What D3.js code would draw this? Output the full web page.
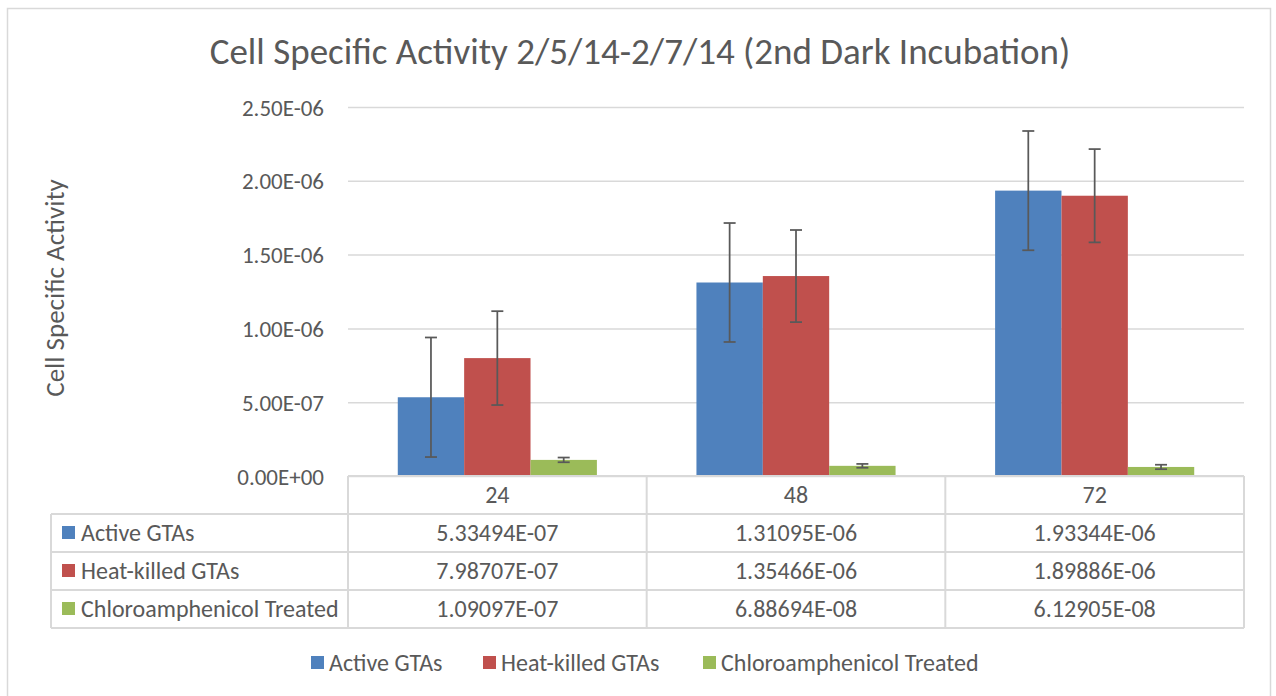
<!DOCTYPE html>
<html>
<head>
<meta charset="utf-8">
<script src="https://cdn.jsdelivr.net/npm/d3@7"></script>
<style>
	body { margin: 0; background: #fff; }
	svg text { font-family: Carlito, Lato, sans-serif; fill: #595959; }
</style>
</head>
<body>
<div id="chartContainer"></div>
<script>
// Data
var categories = ['24', '48', '72'];
var seriesNames = ['Active GTAs', 'Heat-killed GTAs', 'Chloroamphenicol Treated'];
var seriesColors = ['#4f81bd', '#c0504d', '#9bbb59'];
var activeValues = [5.33494e-7, 1.31095e-6, 1.93344e-6];
var heatValues = [7.98707e-7, 1.35466e-6, 1.89886e-6];
var chloroValues = [1.09097e-7, 6.88694e-8, 6.12905e-8];
var activeErrors = [4.05e-7, 4.03e-7, 4.04e-7];
var heatErrors = [3.18e-7, 3.12e-7, 3.16e-7];
var chloroErrors = [1.6e-8, 1.3e-8, 1.5e-8];
var yTicks = [0, 5e-7, 1e-6, 1.5e-6, 2e-6, 2.5e-6];

var seriesValues = [activeValues, heatValues, chloroValues];
var seriesErrors = [activeErrors, heatErrors, chloroErrors];

// Excel style exponent text, e.g. 5.33494E-07
function excelExp(v, digits) {
	var s = v.toExponential(digits).split('e');
	var exp = +s[1];
	var sign = exp < 0 ? '-' : '+';
	var e = Math.abs(exp);
	return s[0] + 'E' + sign + (e < 10 ? '0' + e : e);
}

/***********************************************************
  Start: Main SVG Setup
***********************************************************/
var width = 1276;
var height = 696;
var plot = { left: 348, right: 1244, top: 107, bottom: 476 };
var tableLeft = 51;
var rowHeight = 38;
var tableFont = '24px';

var svg = d3.select('#chartContainer')
	.append('svg')
	.attr('width', width)
	.attr('height', height);

svg.append('rect')
	.attr('x', 7.5)
	.attr('y', 8.5)
	.attr('width', 1263)
	.attr('height', 700)
	.attr('fill', '#fff')
	.attr('stroke', '#d9d9d9')
	.attr('stroke-width', 1.5);
/***********************************************************
  End: Main SVG Setup
***********************************************************/

/***********************************************************
  Start: Scales
***********************************************************/
var x = d3.scaleBand().domain(categories).range([plot.left, plot.right]);
var xInner = d3.scaleBand().domain(d3.range(seriesNames.length))
	.range([0, x.bandwidth()]).paddingInner(0).paddingOuter(0.75);
var y = d3.scaleLinear().domain([0, 2.5e-6]).range([plot.bottom, plot.top]);
var rows = d3.scaleBand().domain(['header'].concat(seriesNames))
	.range([plot.bottom, plot.bottom + rowHeight * 4]);
/***********************************************************
  End: Scales
***********************************************************/

// Title
svg.append('text')
	.text('Cell Specific Activity 2/5/14-2/7/14 (2nd Dark Incubation)')
	.attr('x', 640)
	.attr('y', 64)
	.attr('text-anchor', 'middle')
	.style('font-size', '37px');

// Gridlines and y tick labels
var yAxis = d3.axisLeft(y).tickValues(yTicks).tickSize(-(plot.right - plot.left))
	.tickPadding(24).tickFormat(function(d) { return excelExp(d, 2); });
var gy = svg.append('g')
	.attr('transform', 'translate(' + plot.left + ',0)')
	.call(yAxis);
gy.select('.domain').remove();
gy.selectAll('.tick line').attr('stroke', '#d9d9d9').attr('stroke-width', 1.5);
gy.selectAll('.tick text')
	.style('font-size', '23px')
	.style('font-family', 'Carlito, Lato, sans-serif')
	.attr('fill', '#595959')
	.attr('dy', '0.35em');

// Y axis title
svg.append('text')
	.text('Cell Specific Activity')
	.attr('text-anchor', 'middle')
	.attr('transform', 'translate(64,288) rotate(-90)')
	.style('font-size', '27px');

/***********************************************************
  Start: Bars and error bars
***********************************************************/
for (var s = 0; s < seriesNames.length; s++) {
	for (var c = 0; c < categories.length; c++) {
		var v = seriesValues[s][c];
		var err = seriesErrors[s][c];
		var bx = x(categories[c]) + xInner(s);
		svg.append('rect')
			.attr('x', bx)
			.attr('y', y(v))
			.attr('width', xInner.bandwidth())
			.attr('height', y(0) - y(v))
			.attr('fill', seriesColors[s]);

		var cx = bx + xInner.bandwidth() / 2;
		var g = svg.append('g')
			.attr('stroke', '#595959')
			.attr('stroke-width', 1.75);
		g.append('line')
			.attr('x1', cx).attr('x2', cx)
			.attr('y1', y(v + err)).attr('y2', y(v - err));
		g.append('line')
			.attr('x1', cx - 6).attr('x2', cx + 6)
			.attr('y1', y(v + err)).attr('y2', y(v + err));
		g.append('line')
			.attr('x1', cx - 6).attr('x2', cx + 6)
			.attr('y1', y(v - err)).attr('y2', y(v - err));
	}
}
/***********************************************************
  End: Bars and error bars
***********************************************************/

/***********************************************************
  Start: Data table
***********************************************************/
var tableBottom = rows.range()[1];
var lineColor = '#d9d9d9';

// horizontal lines
svg.append('line')
	.attr('x1', plot.left).attr('x2', plot.right)
	.attr('y1', rows('header')).attr('y2', rows('header'))
	.attr('stroke', lineColor).attr('stroke-width', 2);
seriesNames.forEach(function(name) {
	svg.append('line')
		.attr('x1', tableLeft).attr('x2', plot.right)
		.attr('y1', rows(name)).attr('y2', rows(name))
		.attr('stroke', lineColor).attr('stroke-width', 2);
});
svg.append('line')
	.attr('x1', tableLeft).attr('x2', plot.right)
	.attr('y1', tableBottom).attr('y2', tableBottom)
	.attr('stroke', lineColor).attr('stroke-width', 2);

// vertical lines
svg.append('line')
	.attr('x1', tableLeft).attr('x2', tableLeft)
	.attr('y1', rows(seriesNames[0])).attr('y2', tableBottom)
	.attr('stroke', lineColor).attr('stroke-width', 2);
categories.forEach(function(cat) {
	svg.append('line')
		.attr('x1', x(cat)).attr('x2', x(cat))
		.attr('y1', rows('header')).attr('y2', tableBottom)
		.attr('stroke', lineColor).attr('stroke-width', 2);
});
svg.append('line')
	.attr('x1', plot.right).attr('x2', plot.right)
	.attr('y1', rows('header')).attr('y2', tableBottom)
	.attr('stroke', lineColor).attr('stroke-width', 2);

// category headers
categories.forEach(function(cat) {
	svg.append('text')
		.text(cat)
		.attr('x', x(cat) + x.bandwidth() / 2)
		.attr('y', rows('header') + rowHeight / 2)
		.attr('dy', '0.35em')
		.attr('text-anchor', 'middle')
		.style('font-size', tableFont);
});

// rows: legend key, label, values
seriesNames.forEach(function(name, s) {
	var ry = rows(name) + rowHeight / 2;
	svg.append('rect')
		.attr('x', 62)
		.attr('y', ry - 7)
		.attr('width', 13)
		.attr('height', 13)
		.attr('fill', seriesColors[s]);
	svg.append('text')
		.text(name)
		.attr('x', 81)
		.attr('y', ry)
		.attr('dy', '0.35em')
		.style('font-size', tableFont);
	categories.forEach(function(cat, c) {
		svg.append('text')
			.text(excelExp(seriesValues[s][c], 5))
			.attr('x', x(cat) + x.bandwidth() / 2)
			.attr('y', ry)
			.attr('dy', '0.35em')
			.attr('text-anchor', 'middle')
			.style('font-size', tableFont);
	});
});
/***********************************************************
  End: Data table
***********************************************************/

// Legend
var legendX = [311, 483, 703];
seriesNames.forEach(function(name, s) {
	svg.append('rect')
		.attr('x', legendX[s])
		.attr('y', 656)
		.attr('width', 13)
		.attr('height', 13)
		.attr('fill', seriesColors[s]);
	svg.append('text')
		.text(name)
		.attr('x', legendX[s] + 18)
		.attr('y', 663)
		.attr('dy', '0.35em')
		.style('font-size', tableFont);
});
</script>
</body>
</html>
